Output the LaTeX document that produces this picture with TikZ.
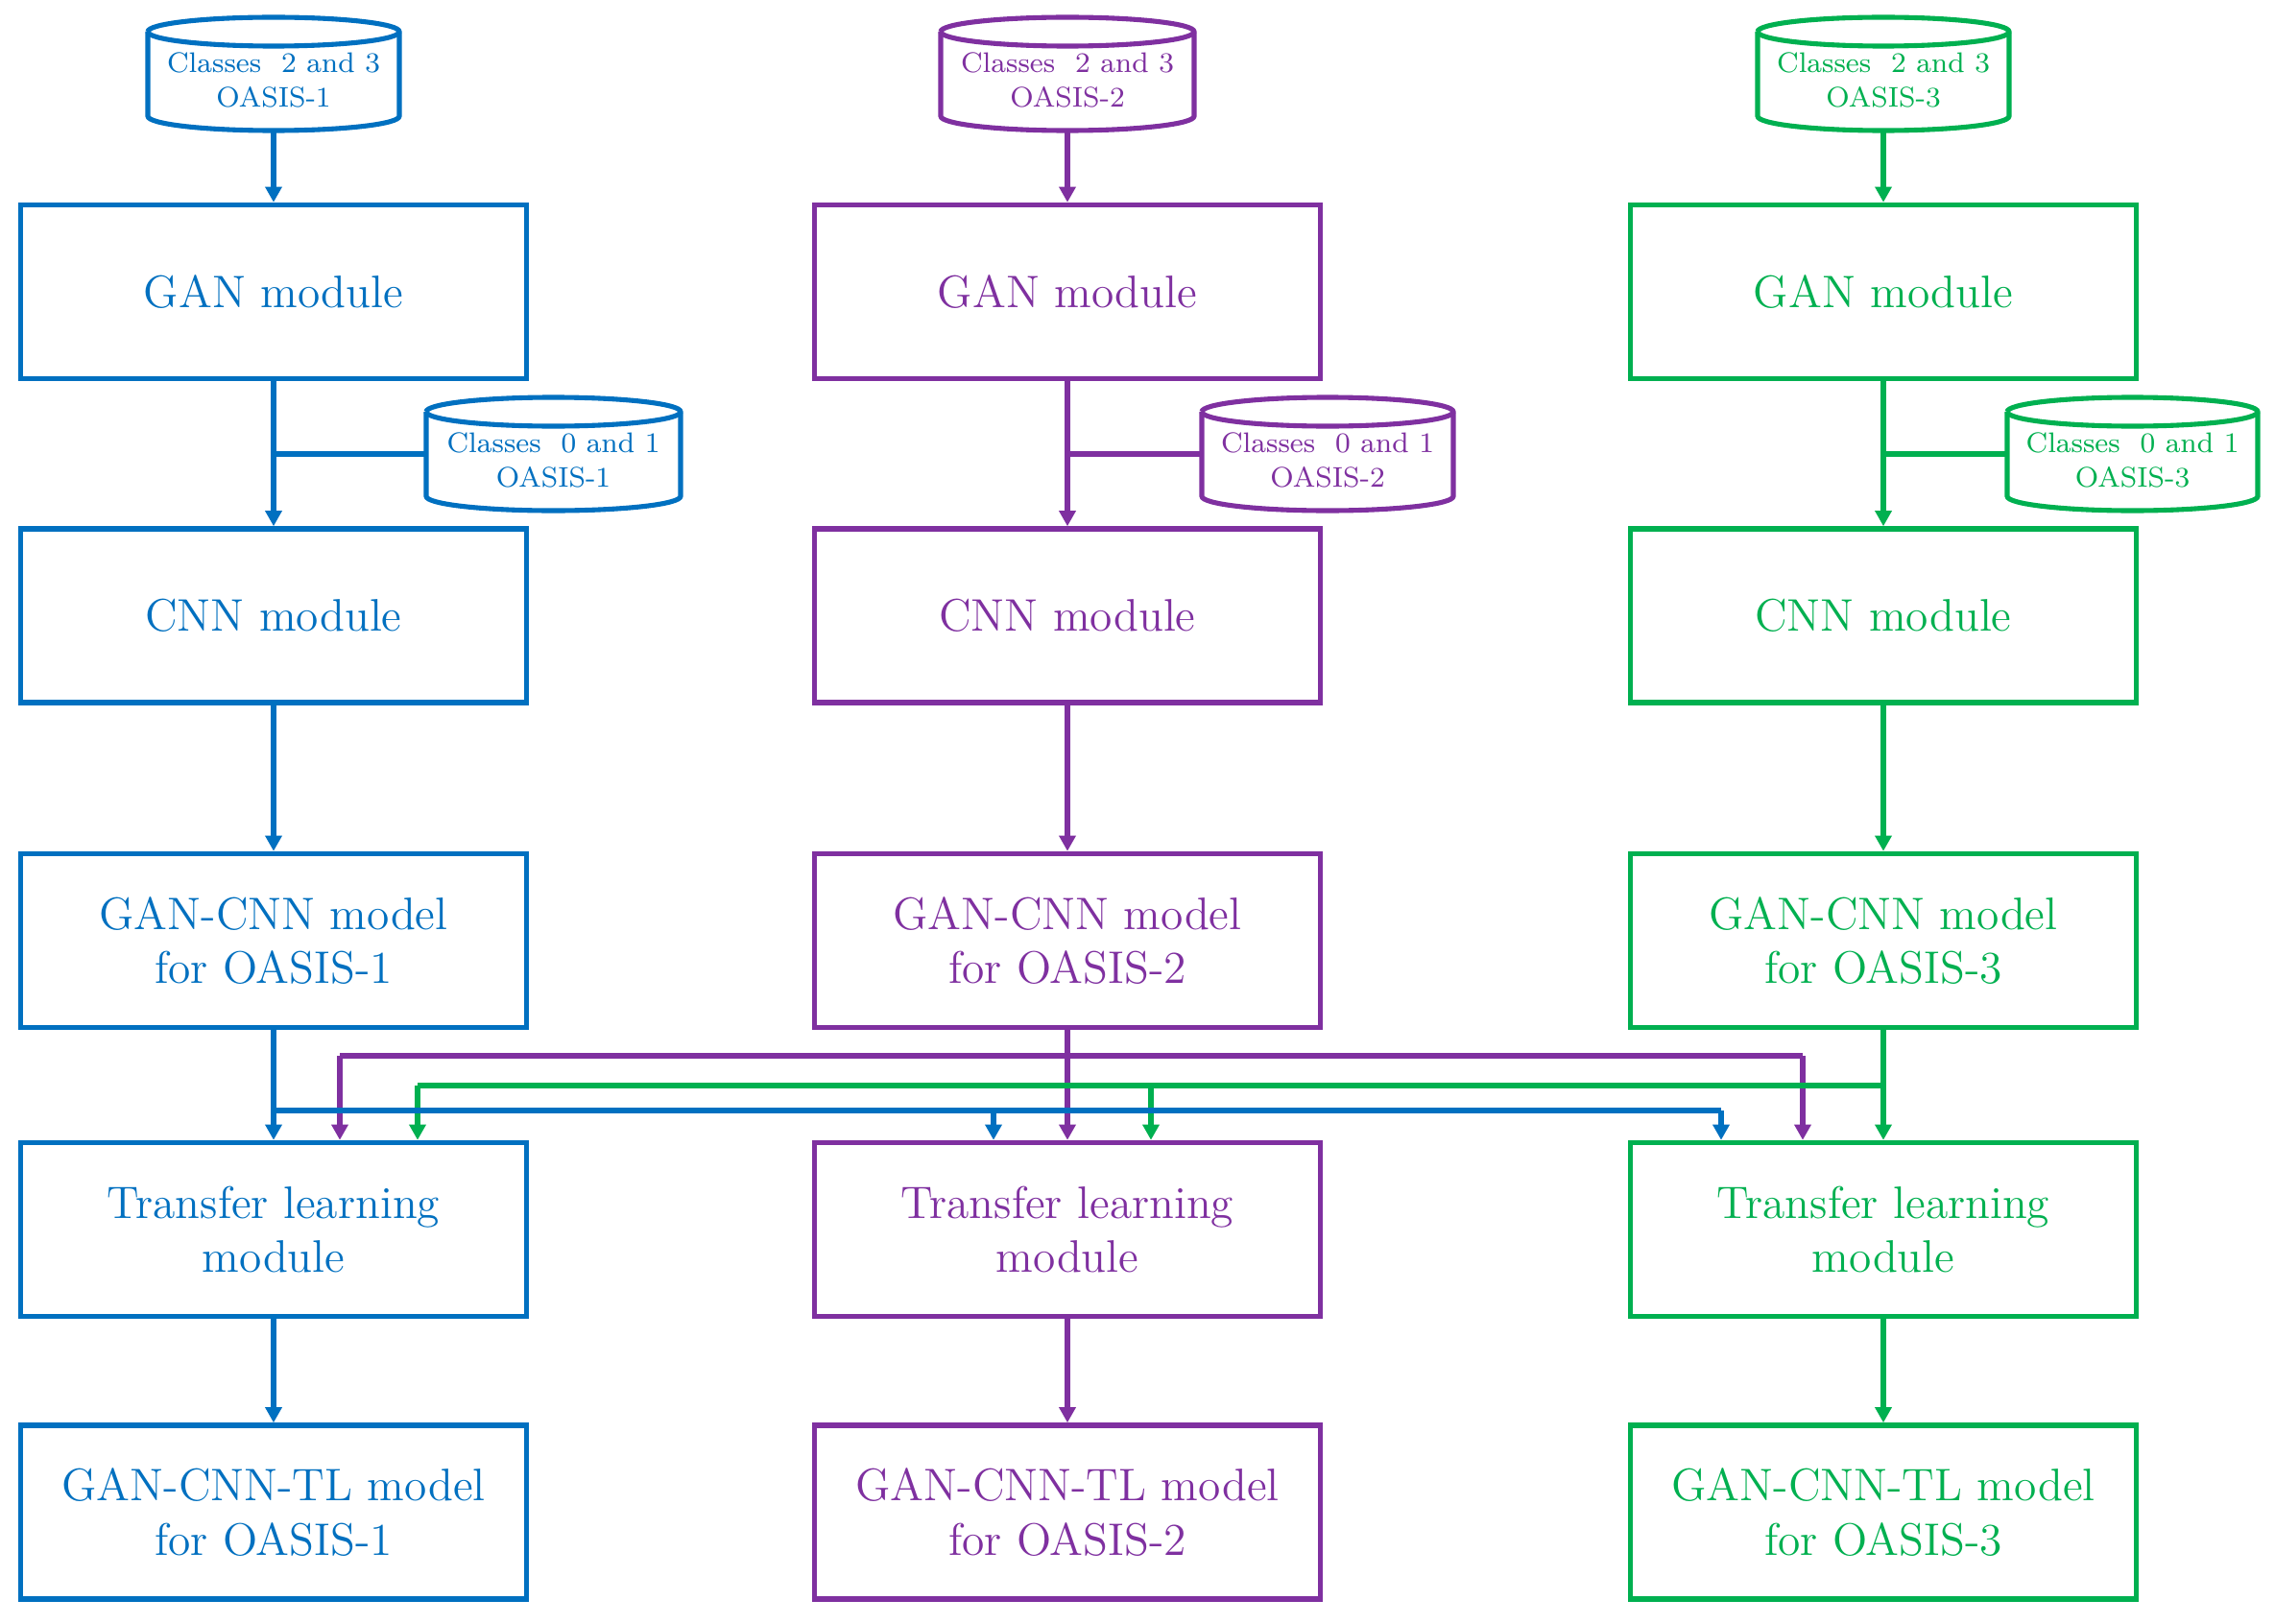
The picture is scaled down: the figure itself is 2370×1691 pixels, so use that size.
\documentclass[tikz,border=0pt]{standalone}
\usetikzlibrary{arrows.meta,fit}
\definecolor{cblue}{HTML}{0070C0}
\definecolor{cpurple}{HTML}{7F30A0}
\definecolor{cgreen}{HTML}{00B050}
\tikzset{
  box/.style={draw, line width=1.55pt, minimum width=5.27cm, minimum height=1.81cm,
    inner sep=0pt, align=center, font=\fontsize{13.5}{16}\selectfont},
  conn/.style={line width=1.45pt, -{Triangle[length=4.6pt,width=4.8pt]}},
  link/.style={line width=1.45pt},
  cylline/.style={line width=1.45pt},
  cyltext/.style={align=center, font=\fontsize{8.4}{10.2}\selectfont, inner sep=0pt},
}
% #1 name, #2 left x, #3 right x, #4 top y, #5 bottom y, #6 colour, #7 text
\newcommand\dbcyl[7]{%
  \pgfmathsetmacro\cylcx{(#2+#3)/2}%
  \pgfmathsetmacro\cylrx{(#3-#2)/2*0.01}%
  \pgfmathsetmacro\cylty{(#4+#5)/2+6}%
  \coordinate (#1-nw) at (#2,#4);
  \coordinate (#1-se) at (#3,#5);
  \node[fit=(#1-nw)(#1-se), inner sep=0pt] (#1) {};
  \draw[cylline,#6,fill=white] (#2,#4+15) -- (#2,#5-15)
     arc[start angle=180, end angle=360, x radius=\cylrx cm, y radius=0.15cm]
     -- (#3,#4+15)
     arc[start angle=0, end angle=180, x radius=\cylrx cm, y radius=0.15cm];
  \draw[cylline,#6] (#2,#4+15)
     arc[start angle=180, end angle=360, x radius=\cylrx cm, y radius=0.15cm];
  \node[cyltext,text=#6] (#1-t) at (\cylcx,\cylty) {#7};
}
\begin{document}
\begin{tikzpicture}[x=0.01cm,y=-0.01cm]
\useasboundingbox (0,0) rectangle (2370,1691);
\fill[white] (0,0) rectangle (2370,1691);

% ---------- boxes ----------
\foreach \n/\x/\c in {1/285/cblue,2/1112/cpurple,3/1962/cgreen}{
  \node[box,\c] (gan\n) at (\x,304) {GAN module};
  \node[box,\c] (cnn\n) at (\x,641.5) {CNN module};
  \node[box,\c] (gc\n) at (\x,980) {GAN-CNN model\\for OASIS-\n};
  \node[box,\c] (tl\n) at (\x,1281) {Transfer learning\\module};
  \node[box,\c] (gctl\n) at (\x,1575.5) {GAN-CNN-TL model\\for OASIS-\n};
}

% ---------- cylinders ----------
\dbcyl{d1}{154}{416}{18}{136}{cblue}{Classes\ \ 2 and 3\\OASIS-1}
\dbcyl{s1}{444}{709}{414}{532}{cblue}{Classes\ \ 0 and 1\\OASIS-1}
\dbcyl{d2}{980}{1244}{18}{136}{cpurple}{Classes\ \ 2 and 3\\OASIS-2}
\dbcyl{s2}{1252}{1514}{414}{532}{cpurple}{Classes\ \ 0 and 1\\OASIS-2}
\dbcyl{d3}{1831}{2093}{18}{136}{cgreen}{Classes\ \ 2 and 3\\OASIS-3}
\dbcyl{s3}{2091}{2352}{414}{532}{cgreen}{Classes\ \ 0 and 1\\OASIS-3}

% ---------- column flows ----------
\foreach \n/\c in {1/cblue,2/cpurple,3/cgreen}{
  \draw[conn,\c] (d\n.south) -- (gan\n.north);
  \draw[conn,\c] (gan\n.south) -- (cnn\n.north);
  \draw[link,\c] (s\n.west) -- (s\n.west -| gan\n.south);
  \draw[conn,\c] (cnn\n.south) -- (gc\n.north);
  \draw[conn,\c] (tl\n.south) -- (gctl\n.north);
}

% ---------- transfer connections ----------
\coordinate (pj1) at (354,1100);
\coordinate (pj3) at (1878,1100);
\coordinate (gj1) at (435,1131);
\coordinate (gj2) at (1199,1131);
\coordinate (gj3) at (1962,1131);
\coordinate (bj1) at (285,1157);
\coordinate (bj2) at (1035,1157);
\coordinate (bj3) at (1793,1157);

\draw[link,cpurple] (pj1) -- (pj3);
\draw[conn,cpurple] (pj1) -- (pj1 |- tl1.north);
\draw[conn,cpurple] (pj3) -- (pj3 |- tl3.north);
\draw[conn,cpurple] (gc2.south) -- (tl2.north);

\draw[link,cgreen] (gj1) -- (gj3);
\draw[conn,cgreen] (gj1) -- (gj1 |- tl1.north);
\draw[conn,cgreen] (gj2) -- (gj2 |- tl2.north);
\draw[conn,cgreen] (gc3.south) -- (tl3.north);

\draw[link,cblue] (bj1) -- (bj3);
\draw[conn,cblue] (bj2) -- (bj2 |- tl2.north);
\draw[conn,cblue] (bj3) -- (bj3 |- tl3.north);
\draw[conn,cblue] (gc1.south) -- (tl1.north);
\end{tikzpicture}
\end{document}
